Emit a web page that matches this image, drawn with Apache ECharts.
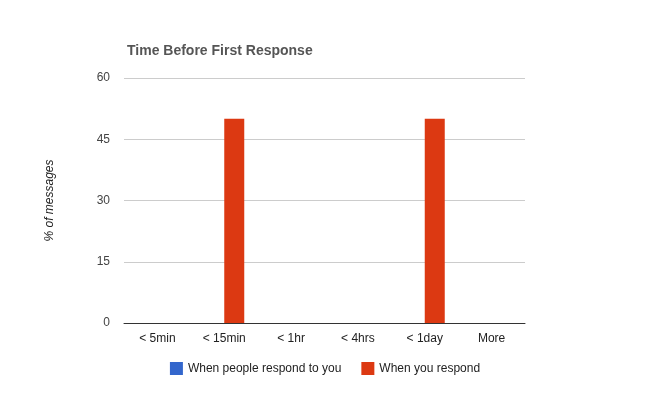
<!DOCTYPE html>
<html><head><meta charset="utf-8">
<script src="https://cdn.jsdelivr.net/npm/echarts@6/dist/echarts.min.js"></script>
<style>html,body{margin:0;padding:0;background:#fff}</style>
</head><body>
<div id="c" style="width:650px;height:400px"></div>
<script>
const categories = ["< 5min", "< 15min", "< 1hr", "< 4hrs", "< 1day", "More"];
const peopleRespond = [0, 0, 0, 0, 0, 0];
const youRespond = [0, 50, 0, 0, 50, 0];
const yTicks = [0, 15, 30, 45, 60];
const chart = echarts.init(document.getElementById('c'));
const ff = 'Arial, "Liberation Sans", sans-serif';
chart.setOption({
  animation: false,
  title: { text: 'Time Before First Response', left: 122, top: 39,
    textStyle: { fontFamily: ff, fontSize: 14, fontWeight: 'bold', color: '#555' } },
  grid: { left: 124, right: 125, top: 78, bottom: 77 },
  legend: { bottom: 20, left: 'center', itemWidth: 13, itemHeight: 13, itemGap: 20,
    icon: 'rect', textStyle: { fontFamily: ff, fontSize: 12, color: '#222' } },
  xAxis: { type: 'category', data: categories,
    axisLine: { lineStyle: { color: '#333' } }, axisTick: { show: false },
    axisLabel: { fontFamily: ff, fontSize: 12, color: '#222', margin: 10 } },
  yAxis: { type: 'value', min: 0, max: 60, interval: 15,
    name: '% of messages', nameLocation: 'middle', nameGap: 68, nameRotate: 90,
    nameTextStyle: { fontFamily: ff, fontSize: 12, fontStyle: 'italic', color: '#222' },
    axisLine: { show: false }, axisTick: { show: false },
    splitLine: { lineStyle: { color: '#ccc' } },
    axisLabel: { fontFamily: ff, fontSize: 12, color: '#444', margin: 14,
      formatter: v => yTicks.includes(v) ? String(v) : '' } },
  series: [
    { name: 'When people respond to you', type: 'bar', data: peopleRespond,
      barWidth: 20, barGap: '0%', itemStyle: { color: '#3366cc' } },
    { name: 'When you respond', type: 'bar', data: youRespond,
      barWidth: 20, itemStyle: { color: '#dc3912' } }
  ]
});
</script>
</body></html>
